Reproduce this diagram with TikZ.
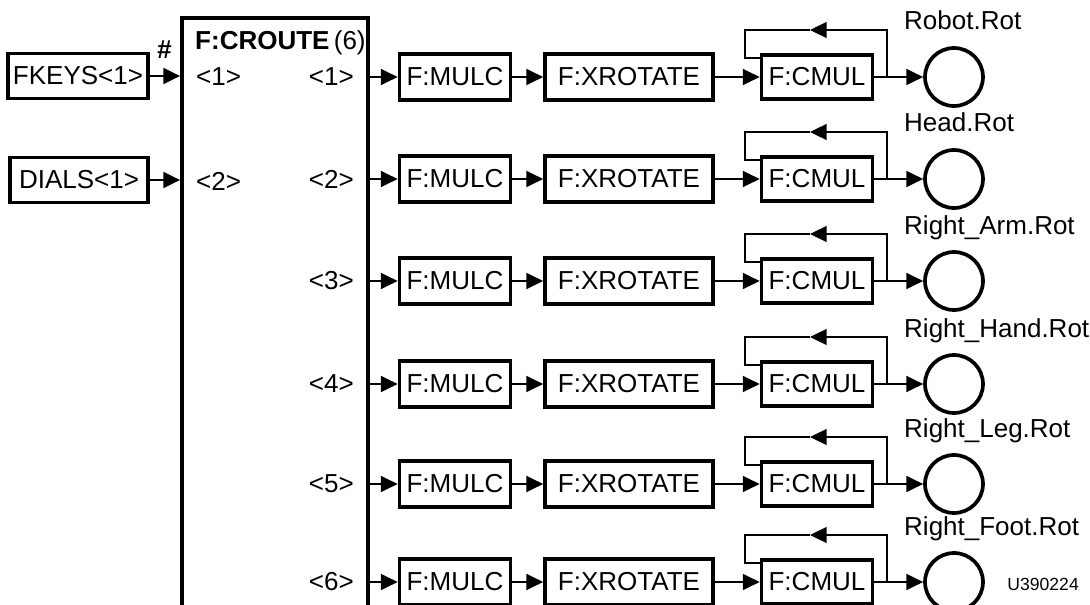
\documentclass[tikz,border=0pt]{standalone}
\usepackage{fontspec}
\setmainfont{Liberation Sans}
\usetikzlibrary{arrows.meta,positioning,calc}

\begin{document}
\begin{tikzpicture}[
  x=0.02cm, y=-0.02cm,
  fbox/.style={draw, line width=2.1pt, minimum height=0.92cm, inner sep=2pt},
  conn/.style={line width=1.1pt, -{Triangle[length=9.5pt, width=9pt]}},
  wire/.style={line width=1.1pt},
  every node/.style={font=\fontsize{14.8}{17}\selectfont}]

\useasboundingbox (0,0) rectangle (1090,605);
\clip (0,0) rectangle (1090,605);

% ================= inputs and router ======================================
% the router box runs off the bottom edge of the page
\node[draw, line width=2.2pt, minimum width=3.72cm, minimum height=12.14cm] (croute) at (275,321.5) {};
\node[anchor=base west] (title) at (189,50) {\textbf{F:CROUTE}\,(6)};
\node[font=\fontsize{14.8}{17}\selectfont\bfseries\itshape] (hash) at (164,50) {\#};

\node[fbox, minimum width=2.8cm, minimum height=0.9cm] (fkeys) at (78,76) {FKEYS<1>};
\node[fbox, minimum width=2.76cm, minimum height=0.9cm] (dials) at (79,180) {DIALS<1>};
\node[anchor=west] (in1) at (190,77) {<1>};
\node[anchor=west] (in2) at (190,181) {<2>};
\draw[conn] (fkeys) -- (fkeys -| croute.west);
\draw[conn] (dials) -- (dials -| croute.west);

% ================= six channels ===========================================
\foreach \i/\y/\lab in {1/77/Robot.Rot, 2/179/Head.Rot, 3/281/Right\_Arm.Rot,
                        4/384/Right\_Hand.Rot, 5/484/Right\_Leg.Rot, 6/582/Right\_Foot.Rot}
{
  \node[anchor=east] (port\i) at (360,\y) {<\i>};
  \node[fbox, minimum width=2.22cm] (mulc\i) at (455,\y) {F:MULC};
  \node[fbox, minimum width=3.36cm] (xrot\i) at (629,\y) {F:XROTATE};
  \node[fbox, minimum width=2.22cm, minimum height=0.88cm] (cmul\i) at (817,\y) {F:CMUL};
  \node[draw, circle, line width=2.1pt, minimum size=1.16cm] (out\i) at (954,\y) {};
  \node[anchor=base west] (name\i) at (898,{\y-47}) {\lab};

  \draw[conn] (port\i -| croute.east) -- (mulc\i);
  \draw[conn] (mulc\i) -- (xrot\i);
  \draw[conn] (xrot\i) -- (cmul\i);
  \draw[conn] (cmul\i) -- (out\i);

  % feedback loop round F:CMUL
  \coordinate (tap\i) at (887,\y);
  \coordinate (top\i) at (887,{\y-47});
  \coordinate (mid\i) at (810,{\y-47});
  \coordinate (back\i) at (745,{\y-47});
  \coordinate (entry\i) at ($(cmul\i.north west)+(0,5)$);
  \draw[conn] (tap\i) -- (top\i) -- (mid\i);
  \draw[wire] (mid\i) -- (back\i) |- (entry\i);
}

\node[font=\fontsize{10}{12}\selectfont, anchor=base east] (code) at (1085,590) {U390224};

\end{tikzpicture}
\end{document}
